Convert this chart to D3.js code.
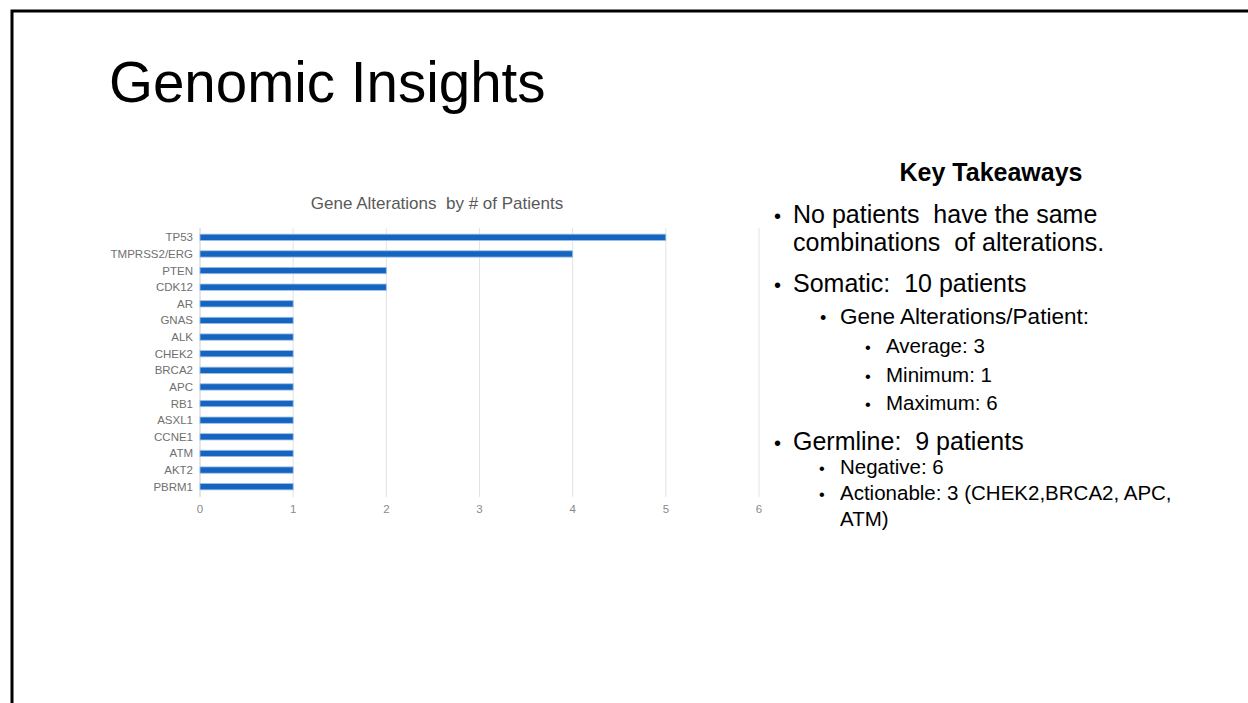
<!DOCTYPE html>
<html>
<head>
<meta charset="utf-8">
<script src="https://cdn.jsdelivr.net/npm/d3@7"></script>
<style>
  html, body { margin: 0; padding: 0; background: #fff; }
  svg { display: block; font-family: "Liberation Sans", Arial, sans-serif; }
</style>
</head>
<body>
<svg id="slide" width="1248" height="703"></svg>
<script>
const genes = ["TP53", "TMPRSS2/ERG", "PTEN", "CDK12", "AR", "GNAS", "ALK", "CHEK2",
  "BRCA2", "APC", "RB1", "ASXL1", "CCNE1", "ATM", "AKT2", "PBRM1"];
const patients = [5, 4, 2, 2, 1, 1, 1, 1, 1, 1, 1, 1, 1, 1, 1, 1];
const xTicks = [0, 1, 2, 3, 4, 5, 6];

const takeaways = [
  { level: 0, lines: ["No patients  have the same", "combinations  of alterations."] },
  { level: 0, lines: ["Somatic:  10 patients"] },
  { level: 1, lines: ["Gene Alterations/Patient:"] },
  { level: 2, lines: ["Average: 3"] },
  { level: 2, lines: ["Minimum: 1"] },
  { level: 2, lines: ["Maximum: 6"] },
  { level: 0, lines: ["Germline:  9 patients"] },
  { level: 3, lines: ["Negative: 6"] },
  { level: 3, lines: ["Actionable: 3 (CHEK2,BRCA2, APC,", "ATM)"] }
];

const svg = d3.select("#slide");

// slide frame
svg.append("path")
  .attr("d", "M12,703 V11 H1248")
  .attr("fill", "none")
  .attr("stroke", "#000")
  .attr("stroke-width", 3);

svg.append("text")
  .attr("x", 109).attr("y", 102)
  .attr("font-size", 56.5)
  .attr("fill", "#000")
  .text("Genomic Insights");

// chart
const x = d3.scaleLinear().domain([0, 6]).range([200, 759]);
const y = d3.scaleBand().domain(genes).range([229, 495]).paddingInner(0.62).paddingOuter(0.31);

svg.append("text")
  .attr("x", 437).attr("y", 209)
  .attr("text-anchor", "middle")
  .attr("font-size", 17)
  .attr("fill", "#595959")
  .attr("xml:space", "preserve")
  .text("Gene Alterations  by # of Patients");

svg.append("g")
  .selectAll("line")
  .data(xTicks)
  .join("line")
  .attr("x1", d => x(d)).attr("x2", d => x(d))
  .attr("y1", 228).attr("y2", 497)
  .attr("stroke", d => d === 0 ? "#cccccc" : "#e3e3e3")
  .attr("stroke-width", 1);

svg.append("g")
  .selectAll("rect")
  .data(genes)
  .join("rect")
  .attr("x", x(0))
  .attr("y", d => y(d))
  .attr("width", (d, i) => x(patients[i]) - x(0))
  .attr("height", y.bandwidth())
  .attr("fill", "#1565c0")
  .attr("stroke", "#9cc0e8")
  .attr("stroke-width", 0.8);

svg.append("g")
  .selectAll("text")
  .data(genes)
  .join("text")
  .attr("x", 193)
  .attr("y", d => y(d) + y.bandwidth() / 2 + 4)
  .attr("text-anchor", "end")
  .attr("font-size", 11.5)
  .attr("fill", "#707070")
  .text(d => d);

svg.append("g")
  .selectAll("text")
  .data(xTicks)
  .join("text")
  .attr("x", d => x(d))
  .attr("y", 513)
  .attr("text-anchor", "middle")
  .attr("font-size", 11.5)
  .attr("fill", "#8a8a8a")
  .text(d => d);

// key takeaways
svg.append("text")
  .attr("x", 991).attr("y", 181)
  .attr("text-anchor", "middle")
  .attr("font-size", 25)
  .attr("font-weight", "bold")
  .attr("fill", "#000")
  .text("Key Takeaways");

const levels = [
  { bullet: 774, text: 793, size: 25, lh: 28 },
  { bullet: 820, text: 840, size: 22.5, lh: 26 },
  { bullet: 865, text: 886, size: 20.5, lh: 28 },
  { bullet: 819, text: 840, size: 20.5, lh: 26 }
];
const startY = [223, 292, 324, 353, 382, 410, 450, 474, 500];

const tg = svg.append("g");
takeaways.forEach((item, i) => {
  const L = levels[item.level];
  tg.append("text")
    .attr("x", L.bullet).attr("y", startY[i])
    .attr("font-size", L.size * 0.8)
    .attr("fill", "#000")
    .text("•");
  item.lines.forEach((line, j) => {
    tg.append("text")
      .attr("x", L.text).attr("y", startY[i] + j * L.lh)
      .attr("font-size", L.size)
      .attr("fill", "#000")
      .attr("xml:space", "preserve")
      .text(line);
  });
});
</script>
</body>
</html>
